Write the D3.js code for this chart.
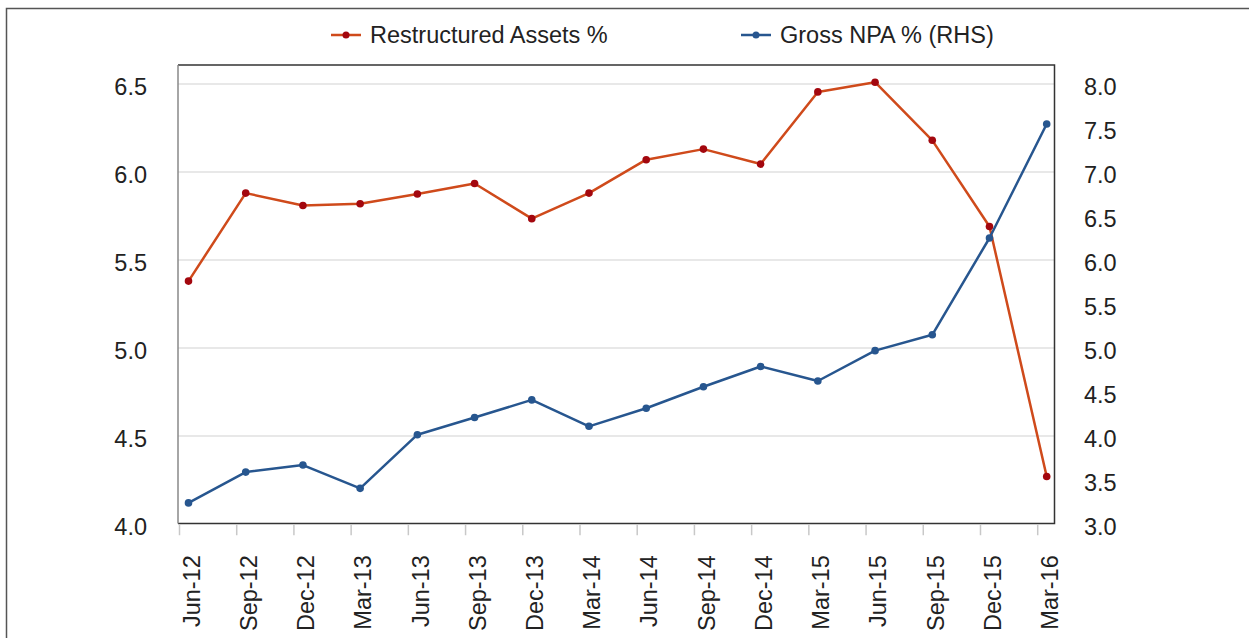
<!DOCTYPE html>
<html>
<head>
<meta charset="utf-8">
<script src="https://cdn.jsdelivr.net/npm/d3@7/dist/d3.min.js"></script>
<style>
  body { margin: 0; background: #fff; }
  svg { display: block; font-family: "Liberation Sans", Arial, sans-serif; }
  .axis text { fill: #222; font-size: 23.5px; }
  .axis path, .axis line { fill: none; }
</style>
</head>
<body>
<script>
// quarter labels
var quarters = ["Jun-12", "Sep-12", "Dec-12", "Mar-13", "Jun-13", "Sep-13", "Dec-13", "Mar-14",
                "Jun-14", "Sep-14", "Dec-14", "Mar-15", "Jun-15", "Sep-15", "Dec-15", "Mar-16"];

// restructured assets % (left axis)
var restructured = [5.38, 5.88, 5.81, 5.82, 5.875, 5.935, 5.735, 5.88,
                    6.07, 6.13, 6.045, 6.455, 6.51, 6.18, 5.69, 4.27];

// gross NPA % (right axis)
var grossNpa = [3.24, 3.59, 3.67, 3.405, 4.015, 4.21, 4.41, 4.11,
                4.315, 4.56, 4.79, 4.625, 4.97, 5.15, 6.25, 7.545];

var leftTicks = [4.0, 4.5, 5.0, 5.5, 6.0, 6.5];
var rightTicks = [3.0, 3.5, 4.0, 4.5, 5.0, 5.5, 6.0, 6.5, 7.0, 7.5, 8.0];

var W = 1249, H = 638;
var plot = {left: 178, right: 1054.5, top: 65, bottom: 523.5};

var svg = d3.select("body").append("svg")
    .attr("width", W)
    .attr("height", H);

// outer frame (only left and top edges are visible)
svg.append("path")
    .attr("d", "M6.5," + H + " V8.5 H" + W)
    .attr("fill", "none")
    .attr("stroke", "#555")
    .attr("stroke-width", 1.5);

// setup scales
var x = d3.scalePoint().domain(quarters).range([188.5, 1046.7]);
var yL = d3.scaleLinear().domain([4, 6.5]).range([524, 84]);
var yR = d3.scaleLinear().domain([3, 8]).range([524, 84]);
var tickShift = -9.5;

// gridlines
svg.append("g")
  .selectAll("line")
    .data(leftTicks.slice(1))
  .enter().append("line")
    .attr("x1", plot.left)
    .attr("x2", plot.right)
    .attr("y1", function(d) { return yL(d); })
    .attr("y2", function(d) { return yL(d); })
    .attr("stroke", "#e8e8e8")
    .attr("stroke-width", 2);

// plot frame
svg.append("path")
    .attr("d", "M" + plot.left + "," + plot.top + " H" + plot.right + " V" + plot.bottom + " H" + plot.left)
    .attr("fill", "none")
    .attr("stroke", "#333")
    .attr("stroke-width", 1.5);
svg.append("line")
    .attr("x1", plot.left).attr("x2", plot.left)
    .attr("y1", plot.top).attr("y2", plot.bottom)
    .attr("stroke", "#888")
    .attr("stroke-width", 1.5);

// x-axis
var xAxis = svg.append("g")
    .attr("class", "axis x")
    .attr("transform", "translate(" + tickShift + "," + (plot.bottom + 0.75) + ")")
    .call(d3.axisBottom(x).tickSize(11).tickPadding(0));
xAxis.select(".domain").remove();
xAxis.selectAll(".tick line").attr("stroke", "#c8c8c8").attr("stroke-width", 1.5);
xAxis.selectAll(".tick text")
    .attr("transform", "rotate(-90)")
    .attr("x", -31)
    .attr("y", -tickShift + 2.5)
    .attr("dy", "0.35em")
    .style("text-anchor", "end");

// y-axis left
var leftAxis = svg.append("g")
    .attr("class", "axis")
    .attr("transform", "translate(" + plot.left + ",0)")
    .call(d3.axisLeft(yL).tickValues(leftTicks).tickFormat(d3.format(".1f")).tickSize(0).tickPadding(31));
leftAxis.select(".domain").remove();
leftAxis.selectAll("text").attr("dy", "0.45em");

// y-axis right
var rightAxis = svg.append("g")
    .attr("class", "axis")
    .attr("transform", "translate(" + plot.right + ",0)")
    .call(d3.axisRight(yR).tickValues(rightTicks).tickFormat(d3.format(".1f")).tickSize(0).tickPadding(29.5));
rightAxis.select(".domain").remove();
rightAxis.selectAll("text").attr("dy", "0.45em");

// series
var series = [
  {name: "Restructured Assets %", values: restructured, y: yL, line: "#cf4a1b", dot: "#a3070e", lx: 331},
  {name: "Gross NPA % (RHS)", values: grossNpa, y: yR, line: "#27568f", dot: "#27568f", lx: 741}
];

series.forEach(function(s) {
  var line = d3.line()
      .x(function(d, i) { return x(quarters[i]); })
      .y(function(d) { return s.y(d); });

  svg.append("path")
      .datum(s.values)
      .attr("fill", "none")
      .attr("stroke", s.line)
      .attr("stroke-width", 2.5)
      .attr("stroke-linejoin", "round")
      .attr("d", line);

  svg.append("g").selectAll("circle")
      .data(s.values)
    .enter().append("circle")
      .attr("cx", function(d, i) { return x(quarters[i]); })
      .attr("cy", function(d) { return s.y(d); })
      .attr("r", 3.8)
      .attr("fill", s.dot);

  // legend
  var lg = svg.append("g").attr("transform", "translate(" + s.lx + ",35)");
  lg.append("line")
      .attr("x1", 0).attr("x2", 30)
      .attr("stroke", s.line)
      .attr("stroke-width", 2.5);
  lg.append("circle")
      .attr("cx", 15).attr("r", 3.5)
      .attr("fill", s.dot);
  lg.append("text")
      .attr("x", 39)
      .attr("dy", "0.35em")
      .attr("fill", "#222")
      .style("font-size", "23.5px")
      .text(s.name);
});
</script>
</body>
</html>
